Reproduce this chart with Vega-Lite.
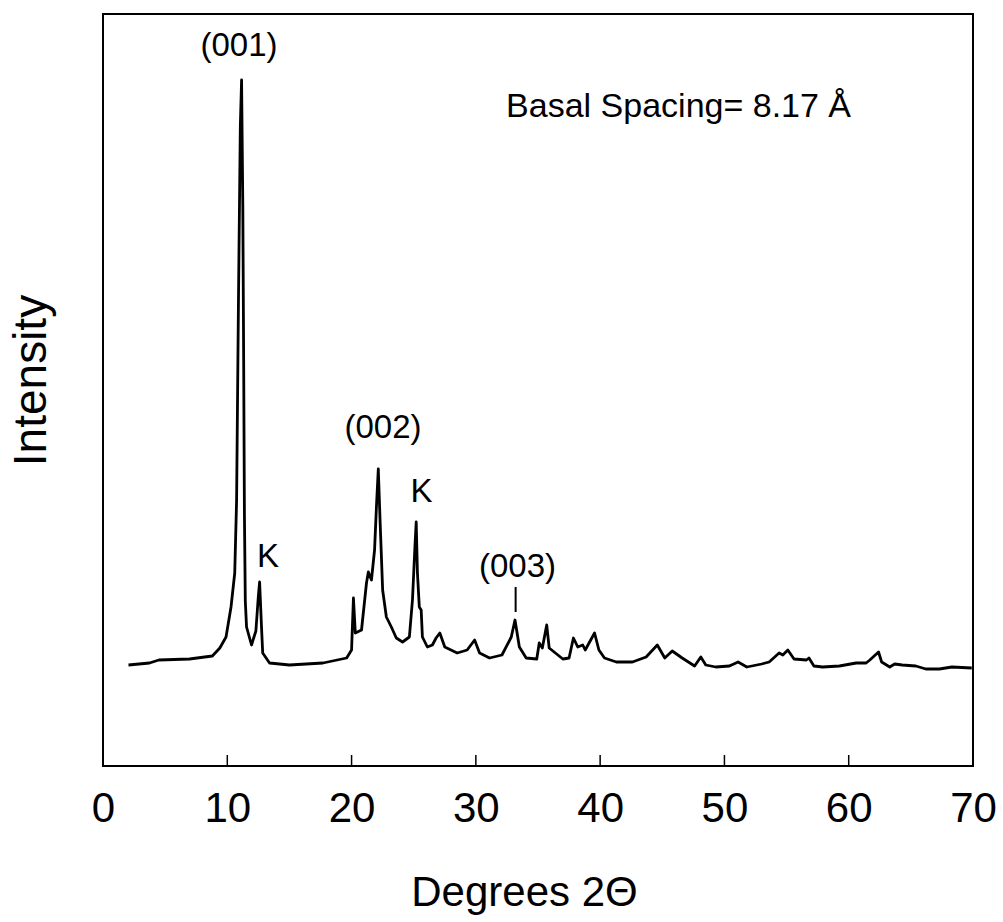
{
  "$schema": "https://vega.github.io/schema/vega-lite/v6.json",
  "width": 870,
  "height": 752,
  "autosize": {"type": "none"},
  "padding": {"left": 103, "top": 14, "right": 30, "bottom": 156},
  "background": "white",
  "config": {"view": {"stroke": "black", "strokeWidth": 2}, "font": "Liberation Sans"},
  "datasets": {
    "xrd": [
      {"theta": 2.05, "intensity": 101}, {"theta": 3.74, "intensity": 103}, {"theta": 4.5, "intensity": 106},
      {"theta": 6.96, "intensity": 107}, {"theta": 8.8, "intensity": 110}, {"theta": 9.4, "intensity": 118},
      {"theta": 9.9, "intensity": 129}, {"theta": 10.3, "intensity": 159}, {"theta": 10.6, "intensity": 193},
      {"theta": 10.75, "intensity": 266}, {"theta": 10.9, "intensity": 466}, {"theta": 11.05, "intensity": 640},
      {"theta": 11.15, "intensity": 686}, {"theta": 11.25, "intensity": 560}, {"theta": 11.32, "intensity": 400},
      {"theta": 11.38, "intensity": 250}, {"theta": 11.45, "intensity": 165}, {"theta": 11.55, "intensity": 139},
      {"theta": 11.95, "intensity": 121}, {"theta": 12.3, "intensity": 135}, {"theta": 12.5, "intensity": 170},
      {"theta": 12.6, "intensity": 184}, {"theta": 12.75, "intensity": 140}, {"theta": 12.85, "intensity": 113},
      {"theta": 13.4, "intensity": 103}, {"theta": 15.0, "intensity": 101}, {"theta": 17.7, "intensity": 103},
      {"theta": 19.6, "intensity": 108}, {"theta": 20.0, "intensity": 116}, {"theta": 20.15, "intensity": 168},
      {"theta": 20.3, "intensity": 133}, {"theta": 20.8, "intensity": 136}, {"theta": 21.2, "intensity": 183},
      {"theta": 21.35, "intensity": 194}, {"theta": 21.6, "intensity": 186}, {"theta": 21.85, "intensity": 216},
      {"theta": 22.0, "intensity": 259}, {"theta": 22.15, "intensity": 297}, {"theta": 22.3, "intensity": 243},
      {"theta": 22.5, "intensity": 176}, {"theta": 22.8, "intensity": 149}, {"theta": 23.2, "intensity": 139},
      {"theta": 23.6, "intensity": 128}, {"theta": 24.1, "intensity": 124}, {"theta": 24.65, "intensity": 129},
      {"theta": 24.9, "intensity": 166}, {"theta": 25.1, "intensity": 220}, {"theta": 25.2, "intensity": 244},
      {"theta": 25.3, "intensity": 193}, {"theta": 25.45, "intensity": 159}, {"theta": 25.6, "intensity": 156},
      {"theta": 25.7, "intensity": 129}, {"theta": 26.1, "intensity": 119}, {"theta": 26.5, "intensity": 121},
      {"theta": 26.8, "intensity": 128}, {"theta": 27.1, "intensity": 133}, {"theta": 27.5, "intensity": 119},
      {"theta": 28.5, "intensity": 113}, {"theta": 29.3, "intensity": 116}, {"theta": 29.9, "intensity": 126},
      {"theta": 30.3, "intensity": 113}, {"theta": 31.1, "intensity": 108}, {"theta": 32.1, "intensity": 111},
      {"theta": 32.85, "intensity": 129}, {"theta": 33.15, "intensity": 146}, {"theta": 33.5, "intensity": 119},
      {"theta": 34.05, "intensity": 108}, {"theta": 34.9, "intensity": 107}, {"theta": 35.1, "intensity": 123},
      {"theta": 35.35, "intensity": 118}, {"theta": 35.7, "intensity": 141}, {"theta": 35.9, "intensity": 118},
      {"theta": 36.3, "intensity": 114}, {"theta": 37.0, "intensity": 107}, {"theta": 37.5, "intensity": 108},
      {"theta": 37.85, "intensity": 128}, {"theta": 38.2, "intensity": 119}, {"theta": 38.6, "intensity": 121},
      {"theta": 38.8, "intensity": 116}, {"theta": 39.55, "intensity": 133}, {"theta": 39.9, "intensity": 116},
      {"theta": 40.35, "intensity": 108}, {"theta": 41.3, "intensity": 104}, {"theta": 42.6, "intensity": 104},
      {"theta": 43.7, "intensity": 109}, {"theta": 44.0, "intensity": 113}, {"theta": 44.6, "intensity": 121},
      {"theta": 45.2, "intensity": 108}, {"theta": 45.8, "intensity": 115}, {"theta": 46.6, "intensity": 108},
      {"theta": 47.6, "intensity": 100}, {"theta": 48.1, "intensity": 109}, {"theta": 48.5, "intensity": 101},
      {"theta": 49.3, "intensity": 99}, {"theta": 50.4, "intensity": 100}, {"theta": 51.1, "intensity": 104},
      {"theta": 51.8, "intensity": 99}, {"theta": 53.0, "intensity": 102}, {"theta": 53.6, "intensity": 104},
      {"theta": 54.4, "intensity": 113}, {"theta": 54.7, "intensity": 111}, {"theta": 55.1, "intensity": 116},
      {"theta": 55.6, "intensity": 107}, {"theta": 56.6, "intensity": 106}, {"theta": 56.8, "intensity": 108},
      {"theta": 57.2, "intensity": 100}, {"theta": 57.9, "intensity": 99}, {"theta": 59.25, "intensity": 100},
      {"theta": 60.6, "intensity": 103}, {"theta": 61.4, "intensity": 103}, {"theta": 61.7, "intensity": 106},
      {"theta": 62.4, "intensity": 114}, {"theta": 62.65, "intensity": 104}, {"theta": 63.3, "intensity": 99},
      {"theta": 63.7, "intensity": 102}, {"theta": 64.3, "intensity": 101}, {"theta": 65.4, "intensity": 100},
      {"theta": 66.2, "intensity": 97}, {"theta": 67.3, "intensity": 97}, {"theta": 68.3, "intensity": 99},
      {"theta": 69.9, "intensity": 98}
    ],
    "peaks": [
      {"theta": 10.94, "intensity": 710, "label": "(001)"},
      {"theta": 22.53, "intensity": 328, "label": "(002)"},
      {"theta": 13.27, "intensity": 199, "label": "K"},
      {"theta": 25.62, "intensity": 264, "label": "K"},
      {"theta": 33.35, "intensity": 189, "label": "(003)"}
    ],
    "note": [
      {"theta": 46.31, "intensity": 649, "label": "Basal Spacing= 8.17 Å"}
    ],
    "marker": [
      {"theta": 33.2, "low": 154, "high": 179}
    ],
    "ticks": [
      {"theta": 10, "low": 0, "high": 11},
      {"theta": 20, "low": 0, "high": 11},
      {"theta": 30, "low": 0, "high": 11},
      {"theta": 40, "low": 0, "high": 11},
      {"theta": 50, "low": 0, "high": 11},
      {"theta": 60, "low": 0, "high": 11}
    ]
  },
  "layer": [
    {
      "data": {"name": "xrd"},
      "mark": {"type": "line", "color": "black", "strokeWidth": 2.8, "interpolate": "linear", "strokeJoin": "round"},
      "encoding": {
        "x": {
          "field": "theta", "type": "quantitative",
          "scale": {"domain": [0, 70], "nice": false, "zero": false},
          "axis": {
            "values": [0, 10, 20, 30, 40, 50, 60, 70],
            "title": "Degrees 2Θ",
            "grid": false, "domain": false, "ticks": false,
            "labelFontSize": 42, "labelColor": "black", "labelPadding": 22,
            "labelFlush": false, "labelOverlap": false, "labelBound": false,
            "labelFont": "Liberation Sans",
            "titleFont": "Liberation Sans",
            "titleFontSize": 42, "titleFontWeight": "normal", "titleColor": "black",
            "titleX": 421, "titleY": 139, "titleBaseline": "alphabetic", "titleAlign": "center"
          }
        },
        "y": {
          "field": "intensity", "type": "quantitative",
          "scale": {"domain": [0, 752], "nice": false, "zero": false},
          "axis": {
            "title": "Intensity",
            "labels": false, "ticks": false, "domain": false, "grid": false,
            "titleFont": "Liberation Sans",
            "titleFontSize": 46, "titleFontWeight": "normal", "titleColor": "black",
            "titleX": -58, "titleY": 366, "titleBaseline": "alphabetic", "titleAlign": "center", "titleAngle": -90
          }
        }
      }
    },
    {
      "data": {"name": "ticks"},
      "mark": {"type": "rule", "color": "black", "strokeWidth": 1.5},
      "encoding": {
        "x": {"field": "theta", "type": "quantitative"},
        "y": {"field": "low", "type": "quantitative"},
        "y2": {"field": "high"}
      }
    },
    {
      "data": {"name": "marker"},
      "mark": {"type": "rule", "color": "black", "strokeWidth": 2},
      "encoding": {
        "x": {"field": "theta", "type": "quantitative"},
        "y": {"field": "low", "type": "quantitative"},
        "y2": {"field": "high"}
      }
    },
    {
      "data": {"name": "peaks"},
      "mark": {"type": "text", "align": "center", "baseline": "alphabetic", "fontSize": 33, "color": "black", "font": "Liberation Sans"},
      "encoding": {
        "x": {"field": "theta", "type": "quantitative"},
        "y": {"field": "intensity", "type": "quantitative"},
        "text": {"field": "label"}
      }
    },
    {
      "data": {"name": "note"},
      "mark": {"type": "text", "align": "center", "baseline": "alphabetic", "fontSize": 34, "color": "black", "font": "Liberation Sans"},
      "encoding": {
        "x": {"field": "theta", "type": "quantitative"},
        "y": {"field": "intensity", "type": "quantitative"},
        "text": {"field": "label"}
      }
    }
  ]
}
